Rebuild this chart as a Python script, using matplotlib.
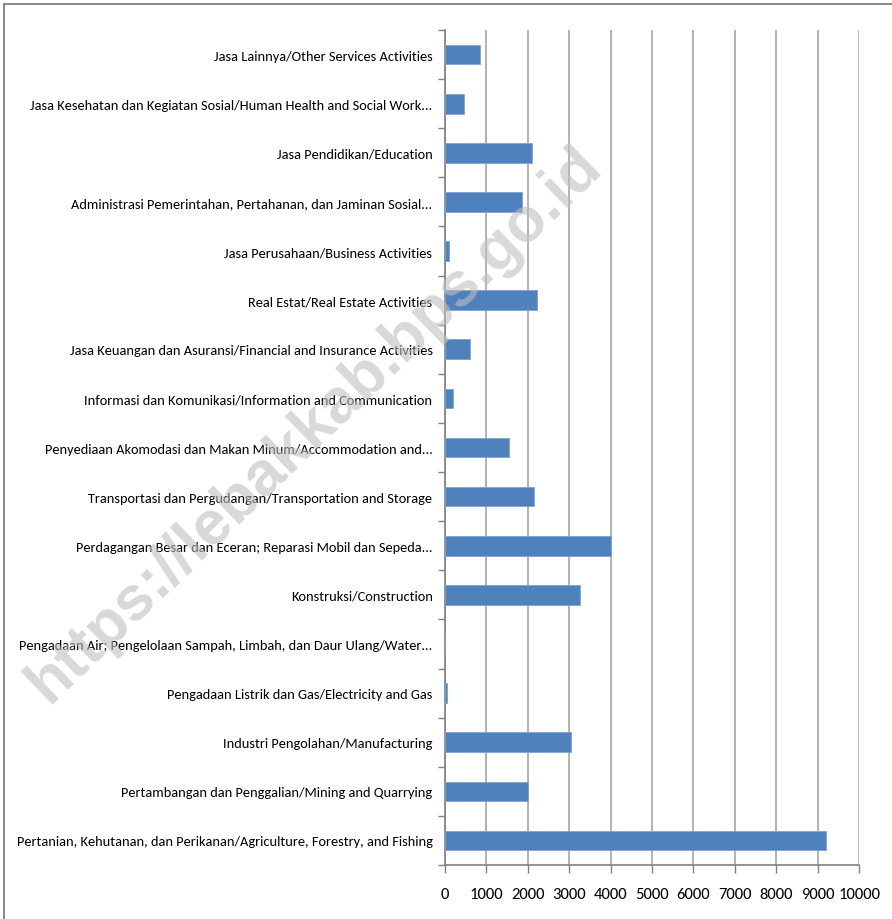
import matplotlib
matplotlib.use("Agg")
import matplotlib.pyplot as plt
from matplotlib.patches import Rectangle
import numpy as np

# categories listed bottom -> top, as drawn
categories = [
    "Pertanian, Kehutanan, dan Perikanan/Agriculture, Forestry, and Fishing",
    "Pertambangan dan Penggalian/Mining and Quarrying",
    "Industri Pengolahan/Manufacturing",
    "Pengadaan Listrik dan Gas/Electricity and Gas",
    "Pengadaan Air; Pengelolaan Sampah, Limbah, dan Daur Ulang/Water...",
    "Konstruksi/Construction",
    "Perdagangan Besar dan Eceran; Reparasi Mobil dan Sepeda...",
    "Transportasi dan Pergudangan/Transportation and Storage",
    "Penyediaan Akomodasi dan Makan Minum/Accommodation and...",
    "Informasi dan Komunikasi/Information and Communication",
    "Jasa Keuangan dan Asuransi/Financial and Insurance Activities",
    "Real Estat/Real Estate Activities",
    "Jasa Perusahaan/Business Activities",
    "Administrasi Pemerintahan, Pertahanan, dan Jaminan Sosial...",
    "Jasa Pendidikan/Education",
    "Jasa Kesehatan dan Kegiatan Sosial/Human Health and Social Work...",
    "Jasa Lainnya/Other Services Activities",
]
values = [9210, 2000, 3050, 50, 10, 3260, 4020, 2150, 1550, 190,
          600, 2220, 100, 1850, 2100, 460, 840]
xticks = list(range(0, 10001, 1000))

plt.rcParams['font.family'] = ['Carlito', 'DejaVu Sans']
my_fontsize = 10.4

fig = plt.figure(figsize=(8.92, 9.2), dpi=100)
ax = fig.add_axes([445 / 892, 1 - 866 / 920, 414 / 892, 835 / 920])

y = np.arange(len(categories))
ax.barh(y, values, height=0.4, color='#4F81BD', edgecolor='#7FA3D0',
        linewidth=0.6, zorder=3)

ax.set_xlim(0, 10000)
ax.set_ylim(-0.5, len(categories) - 0.5)
ax.set_xticks(xticks)
ax.set_xticklabels([str(v) for v in xticks], fontsize=12)
ax.set_yticks(y)
ax.set_yticklabels(categories, fontsize=my_fontsize)
ax.set_yticks(np.arange(-0.5, len(categories), 1), minor=True)
ax.tick_params(axis='y', which='major', length=0, pad=9)
ax.tick_params(axis='y', which='minor', length=5, color='#808080', width=1)
ax.tick_params(axis='x', length=6, color='#808080', width=1, pad=10)

ax.grid(True, axis='x', color='#A6A6A6', linewidth=1.2, zorder=0)
for side in ['top', 'right']:
    ax.spines[side].set_visible(False)
for side in ['left', 'bottom']:
    ax.spines[side].set_color('#808080')
    ax.spines[side].set_linewidth(1.2)

# watermark
fig.text(0.353, 0.538, "https://lebakkab.bps.go.id", fontsize=45, fontweight='bold',
         family=['Liberation Sans'], color='#BFBFBF', alpha=0.6, rotation=44,
         ha='center', va='center', zorder=10)

# outer frame
fig.patches.append(Rectangle((4 / 892, -0.01), 1.0, 1 - 5 / 920 + 0.01,
                             transform=fig.transFigure, fill=False,
                             edgecolor='#8C8C8C', linewidth=1.5))

fig.savefig("out.png", dpi=100)
